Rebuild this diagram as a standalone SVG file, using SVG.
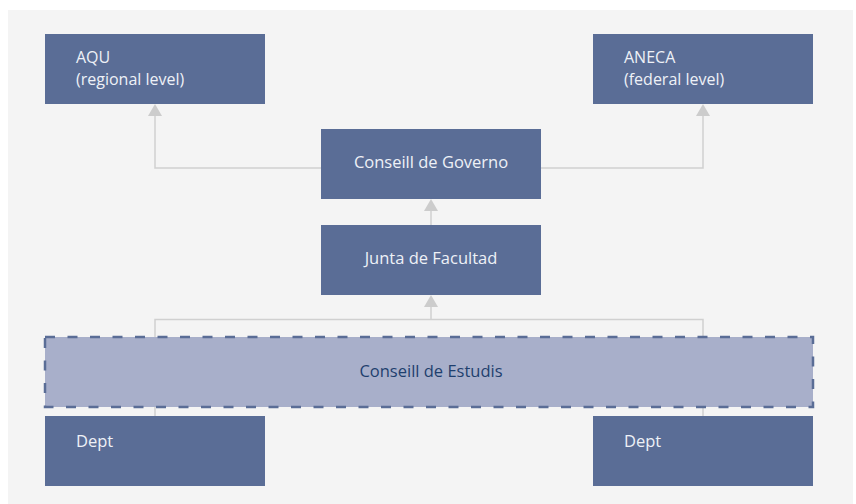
<svg xmlns="http://www.w3.org/2000/svg" width="856" height="504" viewBox="0 0 856 504">
<defs>
<style>
.box{fill:#5a6d96}
.t{font-family:"Open Sans","Noto Sans",sans-serif;font-size:16.5px;fill:#eef1f7}
.s{font-size:16px}
.c{text-anchor:middle}
.conn{fill:none;stroke:#d0d0d0;stroke-width:1.5}
.ah{fill:#cccccc}
.dash{fill:#a8afca;stroke:#5a6d96;stroke-width:2.5;stroke-dasharray:10 12.5}
</style>
</defs>
<rect x="0" y="0" width="856" height="504" fill="#ffffff"/>
<rect x="8" y="10" width="845" height="494" fill="#f4f4f4"/>
<g id="connectors">
<path class="conn" d="M321,168 H155 V116"/>
<path class="ah" d="M148,116 L155,104 L162,116 Z"/>
<path class="conn" d="M541,168 H703 V116"/>
<path class="ah" d="M696,116 L703,104 L710,116 Z"/>
<path class="conn" d="M431,225 V211"/>
<path class="ah" d="M424,211 L431,199 L438,211 Z"/>
<path class="conn" d="M155,416 V319.5 H703 V416"/>
<path class="conn" d="M431,319.5 V307"/>
<path class="ah" d="M424,307 L431,295 L438,307 Z"/>
</g>
<g id="aqu">
<rect class="box" x="45" y="34" width="220" height="70"/>
<text class="t s" x="76" y="63">AQU</text>
<text class="t s" x="76" y="85">(regional level)</text>
</g>
<g id="aneca">
<rect class="box" x="593" y="34" width="220" height="70"/>
<text class="t s" x="624" y="63">ANECA</text>
<text class="t s" x="624" y="85">(federal level)</text>
</g>
<g id="governo">
<rect class="box" x="321" y="129" width="220" height="70"/>
<text class="t c" x="431" y="168">Conseill de Governo</text>
</g>
<g id="junta">
<rect class="box" x="321" y="225" width="220" height="70"/>
<text class="t c" x="431" y="264">Junta de Facultad</text>
</g>
<g id="estudis">
<rect class="dash" x="45" y="337" width="768" height="70"/>
<text class="t c" x="431" y="377" style="fill:#1f3f6e">Conseill de Estudis</text>
</g>
<g id="dept1">
<rect class="box" x="45" y="416" width="220" height="70"/>
<text class="t" x="76" y="447">Dept</text>
</g>
<g id="dept2">
<rect class="box" x="593" y="416" width="220" height="70"/>
<text class="t" x="624" y="447">Dept</text>
</g>
</svg>
